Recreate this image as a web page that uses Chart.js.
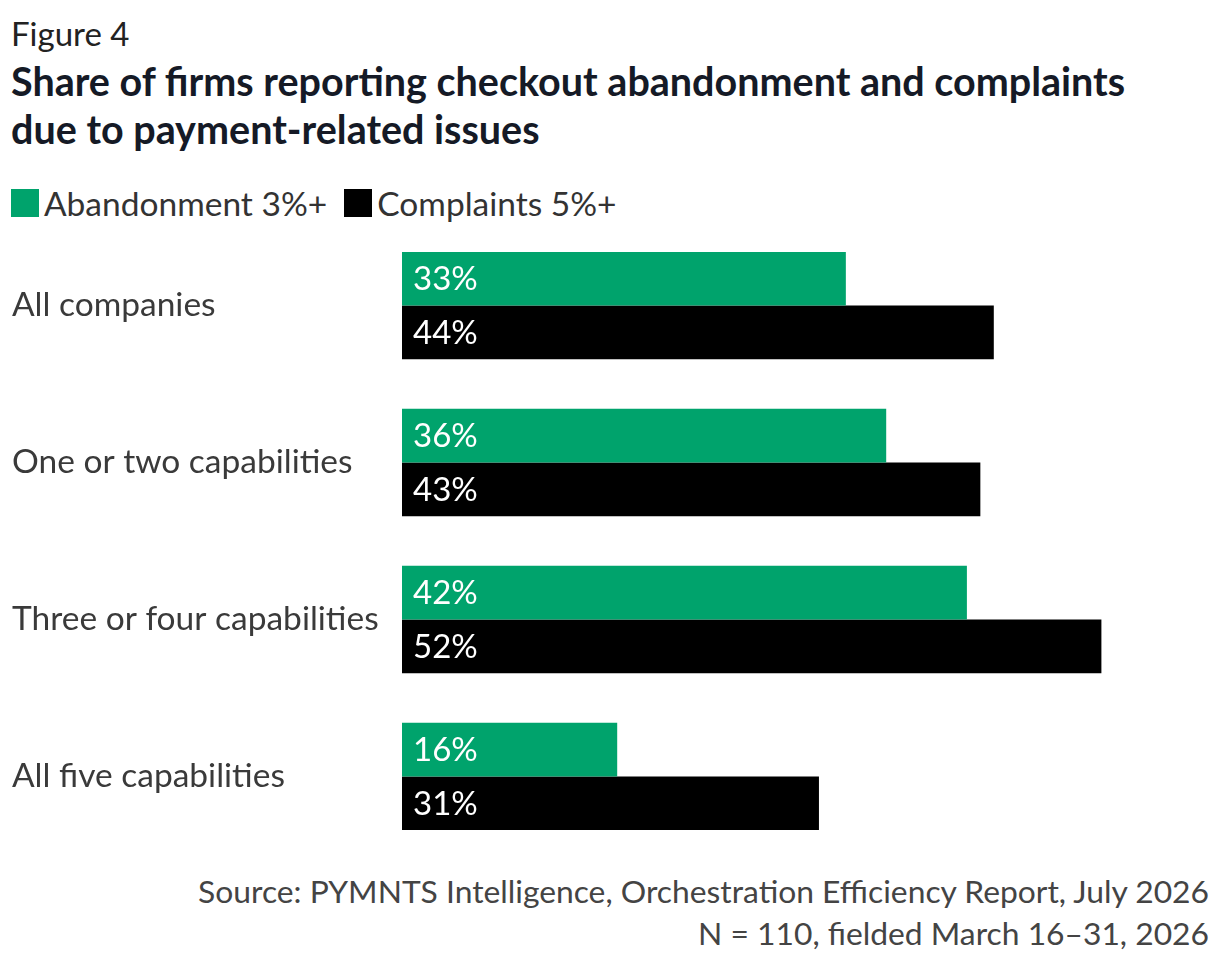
<!DOCTYPE html>
<html><head><meta charset="utf-8">
<script src="https://cdn.jsdelivr.net/npm/chart.js@4"></script>
<style>
body{margin:0;width:1220px;height:960px;background:#fff;font-family:Lato,sans-serif;position:relative;overflow:hidden}
.t{position:absolute;white-space:nowrap}
#fig{left:11px;top:13px;font-size:33px;color:#222;line-height:40px}
#title{left:11px;top:57px;font-size:39.5px;font-weight:bold;color:#151a26;line-height:48px}
#legend{left:11px;top:183px;font-size:33.5px;color:#333;display:flex;align-items:center;line-height:40px}
#legend span.b{display:inline-block;width:28px;height:28px;margin-right:5px}
#src{right:11px;top:870px;font-size:31.8px;color:#444;text-align:right;line-height:42px}
#wrap{position:absolute;left:12px;top:207px;width:1197px;height:668px}
</style></head><body>
<div class="t" id="fig">Figure 4</div>
<div class="t" id="title">Share of firms reporting checkout abandonment and complaints<br>due to payment-related issues</div>
<div class="t" id="legend"><span class="b" style="background:#00a36c"></span>Abandonment 3%+&nbsp;&nbsp;<span class="b" style="background:#000"></span>Complaints 5%+</div>
<div class="t" id="src">Source: PYMNTS Intelligence, Orchestration Efficiency Report, July 2026<br>N = 110, fielded March 16–31, 2026</div>
<div id="wrap"><canvas id="c"></canvas></div>
<script>
const categories=["All companies","One or two capabilities","Three or four capabilities","All five capabilities"];
const abandonment=[33,36,42,16];
const complaints=[44,43,52,31];
const seriesNames=["Abandonment 3%+","Complaints 5%+"];
const labelPlugin={id:'lbl',afterDatasetsDraw(ch){const ctx=ch.ctx;ctx.save();ctx.fillStyle='#fff';ctx.font='33px Lato';ctx.textBaseline='middle';
ch.data.datasets.forEach((ds,i)=>{ch.getDatasetMeta(i).data.forEach((b,j)=>{ctx.fillText(ds.data[j]+'%',b.base+11,b.y+1);});});ctx.restore();}};
new Chart(document.getElementById('c'),{type:'bar',
data:{labels:categories,datasets:[
{label:seriesNames[0],data:abandonment,backgroundColor:'#00a36c',categoryPercentage:0.684,barPercentage:1},
{label:seriesNames[1],data:complaints,backgroundColor:'#000',categoryPercentage:0.684,barPercentage:1}]},
options:{indexAxis:'y',responsive:true,maintainAspectRatio:false,animation:false,
layout:{padding:0},
plugins:{legend:{display:false},tooltip:{enabled:false}},
scales:{x:{min:0,max:60,display:false},
y:{grid:{display:false},border:{display:false},afterFit(s){s.width=390;},
ticks:{crossAlign:'far',color:'#3a3a3a',font:{family:'Lato',size:33.5},padding:0}}}},
plugins:[labelPlugin]});
</script></body></html>
